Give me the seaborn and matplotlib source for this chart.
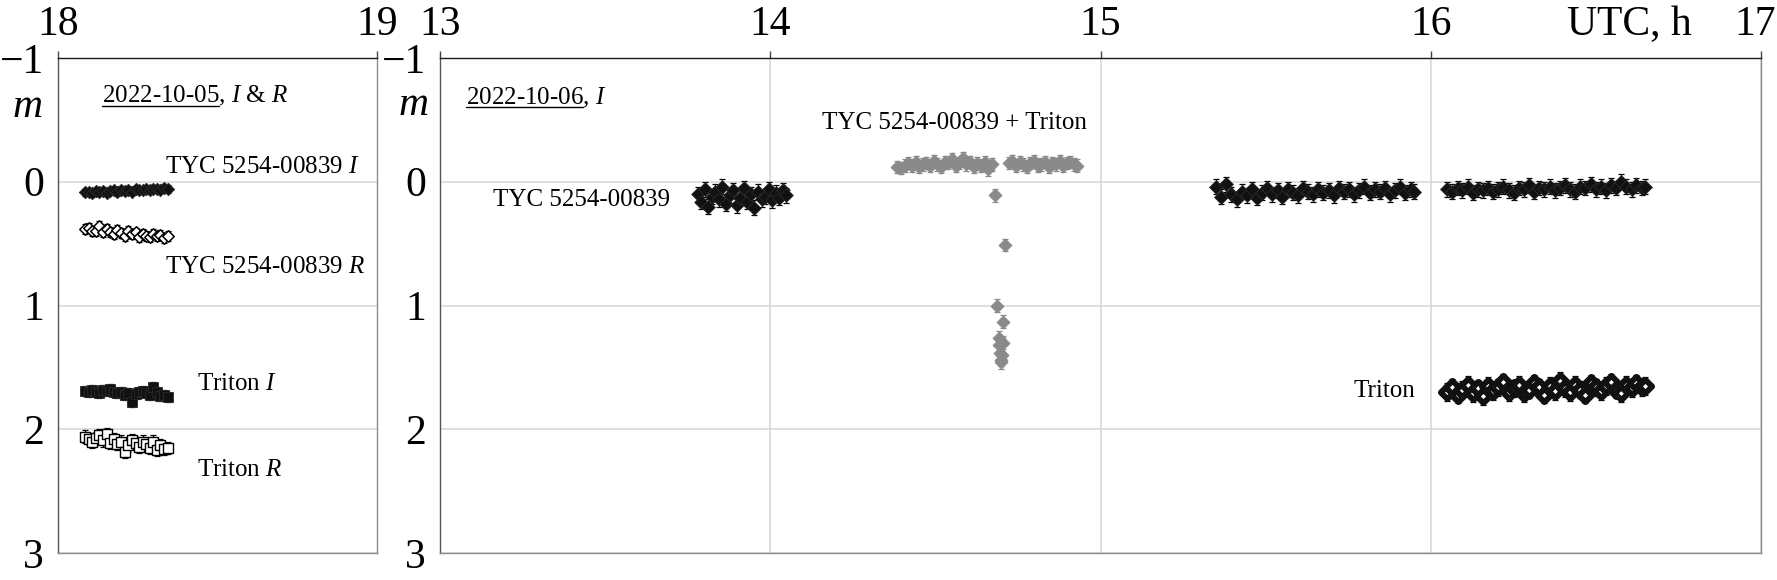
import matplotlib
matplotlib.use("Agg")
import matplotlib.pyplot as plt
import seaborn as sns
from matplotlib.lines import Line2D

# ---- 2022-10-05, I & R (left panel) ----
t_1005 = [18.085, 18.096, 18.108, 18.119, 18.130, 18.141, 18.153, 18.164, 18.175, 18.186,
          18.198, 18.209, 18.220, 18.231, 18.243, 18.254, 18.265, 18.276, 18.288, 18.299,
          18.310, 18.321, 18.333, 18.344]
tyc_I_1005 = [0.085, 0.080, 0.090, 0.078, 0.082, 0.072, 0.088, 0.075, 0.070, 0.083,
              0.068, 0.074, 0.066, 0.079, 0.061, 0.070, 0.064, 0.058, 0.069, 0.060,
              0.055, 0.063, 0.052, 0.058]
tyc_R_1005 = [0.385, 0.370, 0.400, 0.395, 0.360, 0.410, 0.380, 0.405, 0.420, 0.390,
              0.415, 0.440, 0.400, 0.425, 0.410, 0.445, 0.420, 0.435, 0.450, 0.425,
              0.440, 0.430, 0.455, 0.440]
triton_I_1005 = [1.690, 1.700, 1.680, 1.695, 1.705, 1.685, 1.690, 1.675, 1.700, 1.710,
                 1.695, 1.720, 1.705, 1.780, 1.715, 1.700, 1.690, 1.710, 1.720, 1.660,
                 1.700, 1.735, 1.725, 1.740]
triton_R_1005 = [2.060, 2.080, 2.100, 2.070, 2.050, 2.090, 2.040, 2.110, 2.080, 2.120,
                 2.100, 2.180, 2.130, 2.090, 2.110, 2.140, 2.100, 2.120, 2.150, 2.100,
                 2.170, 2.130, 2.160, 2.150]

# ---- 2022-10-06, I (right panel) ----
t_tyc_a = [13.780, 13.791, 13.802, 13.812, 13.823, 13.834, 13.845, 13.855, 13.866, 13.877,
           13.888, 13.898, 13.909, 13.920, 13.931, 13.941, 13.952, 13.963, 13.974, 13.984,
           13.995, 14.006, 14.017, 14.027, 14.038, 14.049]
m_tyc_a = [0.10, 0.16, 0.06, 0.20, 0.12, 0.08, 0.14, 0.04, 0.18, 0.11,
           0.07, 0.19, 0.13, 0.05, 0.16, 0.10, 0.21, 0.08, 0.14, 0.12,
           0.06, 0.15, 0.09, 0.13, 0.07, 0.11]

t_occ = [14.385, 14.396, 14.407, 14.418, 14.429, 14.440, 14.451, 14.462, 14.473, 14.484,
         14.495, 14.506, 14.517, 14.528, 14.539, 14.550, 14.561, 14.572, 14.583, 14.594,
         14.605, 14.616, 14.627, 14.638, 14.649, 14.660, 14.671,
         14.680, 14.688, 14.692, 14.694, 14.696, 14.698, 14.700, 14.702, 14.704, 14.706, 14.710,
         14.722, 14.733, 14.744, 14.755, 14.766, 14.777, 14.788, 14.799, 14.810, 14.821,
         14.832, 14.843, 14.854, 14.865, 14.876, 14.887, 14.898, 14.909, 14.920, 14.930]
m_occ = [-0.12, -0.11, -0.13, -0.15, -0.13, -0.16, -0.12, -0.14, -0.15, -0.13,
         -0.17, -0.14, -0.12, -0.16, -0.15, -0.18, -0.13, -0.15, -0.19, -0.14,
         -0.16, -0.12, -0.15, -0.13, -0.16, -0.10, -0.14,
         0.11, 1.00, 1.26, 1.32, 1.38, 1.44, 1.46, 1.40, 1.30, 1.13, 0.51,
         -0.15, -0.17, -0.13, -0.16, -0.14, -0.12, -0.15, -0.17, -0.13, -0.14,
         -0.16, -0.12, -0.15, -0.14, -0.17, -0.13, -0.15, -0.16, -0.14, -0.13]

t_tyc_b = [15.350, 15.365, 15.381, 15.396, 15.412, 15.427, 15.443, 15.458, 15.474, 15.489,
           15.505, 15.520, 15.536, 15.551, 15.567, 15.582, 15.598, 15.613, 15.629, 15.644,
           15.660, 15.675, 15.691, 15.706, 15.722, 15.737, 15.753, 15.768, 15.784, 15.799,
           15.815, 15.830, 15.846, 15.861, 15.877, 15.892, 15.908, 15.923, 15.939, 15.950]
m_tyc_b = [0.04, 0.12, 0.02, 0.10, 0.14, 0.08, 0.11, 0.06, 0.13, 0.09,
           0.05, 0.10, 0.07, 0.12, 0.06, 0.09, 0.11, 0.05, 0.08, 0.10,
           0.06, 0.09, 0.07, 0.11, 0.05, 0.08, 0.06, 0.10, 0.07, 0.04,
           0.09, 0.06, 0.08, 0.05, 0.10, 0.07, 0.04, 0.09, 0.06, 0.08]

t_tyc_c = [16.050, 16.065, 16.081, 16.096, 16.112, 16.127, 16.143, 16.158, 16.174, 16.189,
           16.205, 16.220, 16.236, 16.251, 16.267, 16.282, 16.298, 16.313, 16.329, 16.344,
           16.360, 16.375, 16.391, 16.406, 16.422, 16.437, 16.453, 16.468, 16.484, 16.499,
           16.515, 16.530, 16.546, 16.561, 16.577, 16.592, 16.608, 16.623, 16.639, 16.650]
m_tyc_c = [0.06, 0.08, 0.05, 0.07, 0.04, 0.09, 0.06, 0.07, 0.05, 0.08,
           0.06, 0.04, 0.07, 0.09, 0.05, 0.06, 0.03, 0.08, 0.05, 0.06,
           0.04, 0.07, 0.05, 0.03, 0.06, 0.08, 0.04, 0.05, 0.02, 0.06,
           0.04, 0.07, 0.03, 0.05, 0.00, 0.04, 0.06, 0.03, 0.05, 0.04]
m_triton_c = [1.70, 1.66, 1.72, 1.68, 1.64, 1.71, 1.67, 1.73, 1.65, 1.69,
              1.66, 1.62, 1.70, 1.67, 1.64, 1.71, 1.68, 1.63, 1.66, 1.72,
              1.65, 1.69, 1.61, 1.67, 1.70, 1.64, 1.68, 1.72, 1.63, 1.66,
              1.69, 1.65, 1.62, 1.68, 1.71, 1.64, 1.67, 1.63, 1.66, 1.65]

# error bar half-widths (mag)
err_tyc = 0.06
err_occ = 0.05
err_triton = 0.07

yticks = [-1, 0, 1, 2, 3]
xticks_1005 = [18, 19]
xticks_1006 = [13, 14, 15, 16, 17]

sns.set_style("white")
plt.rcParams["font.family"] = ["Liberation Serif", "DejaVu Serif"]
plt.rcParams["text.color"] = "black"
plt.rcParams["mathtext.fontset"] = "custom"
plt.rcParams["mathtext.rm"] = "Liberation Serif"
plt.rcParams["mathtext.it"] = "Liberation Serif:italic"

W, H = 1777, 580
fig = plt.figure(figsize=(W / 100, H / 100), dpi=100)
ax1 = fig.add_axes([58 / W, 27 / H, 319 / W, 495 / H])
ax2 = fig.add_axes([440 / W, 27 / H, 1321 / W, 495 / H])

BLACK = "#111111"
GRAY = "#8a8a8a"


def series(ax, t, m, err, marker, size, face, edge, lw=0.6, ecolor="black"):
    ax.errorbar(t, m, yerr=err, fmt="none", ecolor=ecolor, elinewidth=0.9,
                capsize=2.5, capthick=0.9, zorder=2)
    sns.scatterplot(x=t, y=m, ax=ax, marker=marker, s=size, color=face,
                    edgecolor=edge, linewidth=lw, zorder=3, legend=False)


# left panel
series(ax1, t_1005, tyc_I_1005, 0.03, "D", 40, BLACK, "#2a2a2a")
series(ax1, t_1005, tyc_R_1005, 0.04, "D", 34, "white", "black", lw=1.1)
series(ax1, t_1005, triton_I_1005, 0.04, "s", 58, BLACK, "#2a2a2a")
series(ax1, t_1005, triton_R_1005, 0.05, "s", 48, "white", "black", lw=1.0)

# right panel
series(ax2, t_tyc_a, m_tyc_a, err_tyc, "D", 48, BLACK, "#2a2a2a")
series(ax2, t_occ, m_occ, err_occ, "D", 44, GRAY, GRAY, ecolor=GRAY)
series(ax2, t_tyc_b, m_tyc_b, err_tyc, "D", 50, BLACK, "#2a2a2a")
series(ax2, t_tyc_c, m_tyc_c, err_tyc, "D", 50, BLACK, "#2a2a2a")
series(ax2, t_tyc_c, m_triton_c, err_triton, "D", 46, "white", "#111111", lw=4.2)

for ax, xt in ((ax1, xticks_1005), (ax2, xticks_1006)):
    ax.set_xlim(xt[0], xt[-1])
    ax.set_ylim(3, -1)
    ax.set_xticks(xt)
    ax.set_yticks(yticks)
    ax.xaxis.tick_top()
    ax.tick_params(axis="both", labelsize=30, length=5, width=1.0, direction="out",
                   colors="#444444", labelcolor="black")
    ax.tick_params(axis="x", pad=5)
    ax.tick_params(axis="y", pad=5)
    ax.spines["top"].set_color("#1a1a1a")
    ax.spines["left"].set_color("#555555")
    ax.spines["right"].set_color("#8c8c8c")
    ax.spines["bottom"].set_color("#8c8c8c")
    for sp in ax.spines.values():
        sp.set_linewidth(1.0)
        sp.set_visible(True)
    ax.set_xlabel("")
    ax.set_ylabel("")

# last hour label sits at the figure edge: draw it as text so it is not clipped
ax2.set_xticklabels(["13", "14", "15", "16", ""])
fig.text(1776 / W, 1 - 35 / H, "17", fontsize=30, ha="right", va="baseline")

ax1.grid(axis="y", color="#d6d6d6", linewidth=1.1)
ax2.grid(axis="both", color="#d6d6d6", linewidth=1.1)
for ax in (ax1, ax2):
    ax.set_axisbelow(True)

FS = 18
ax1.text(18.335, -0.072, "TYC 5254-00839 $I$", fontsize=FS, va="baseline")
ax1.text(18.335, 0.738, "TYC 5254-00839 $R$", fontsize=FS, va="baseline")
ax1.text(18.436, 1.684, "Triton $I$", fontsize=FS, va="baseline")
ax1.text(18.436, 2.374, "Triton $R$", fontsize=FS, va="baseline")

ax2.text(13.161, 0.192, "TYC 5254-00839", fontsize=FS, va="baseline")
ax2.text(14.158, -0.425, "TYC 5254-00839 + Triton", fontsize=FS, va="baseline")
ax2.text(15.767, 1.74, "Triton", fontsize=FS, va="baseline")

# date headers with underlined date
headers = [(ax1, 18.138, -0.64, "2022-10-05", "2022-10-05, $I$ & $R$"),
           (ax2, 13.079, -0.626, "2022-10-06", "2022-10-06, $I$")]
measure = []
for ax, x, y, date, full in headers:
    ax.text(x, y, full, fontsize=FS, va="baseline")
    mt = ax.text(x, y, date, fontsize=FS, va="baseline", alpha=0)
    measure.append((ax, x, y, mt))

fig.text(28 / W, 1 - 117 / H, "m", fontsize=30, style="italic", ha="center", va="baseline")
fig.text(413 / W, 1 - 115 / H, "m", fontsize=30, style="italic", ha="center", va="baseline")
fig.text(1629 / W, 1 - 35 / H, "UTC, h", fontsize=30, ha="center", va="baseline")

fig.canvas.draw()
renderer = fig.canvas.get_renderer()
inv = fig.transFigure.inverted()
for ax, x, y, mt in measure:
    bb = mt.get_window_extent(renderer)
    base = ax.transData.transform((x, y))[1] - 3
    p0 = inv.transform((bb.x0, base))
    p1 = inv.transform((bb.x1, base))
    fig.add_artist(Line2D([p0[0], p1[0]], [p0[1], p1[1]], color="black",
                          linewidth=1.0, transform=fig.transFigure))

fig.savefig("out.png", dpi=100)
